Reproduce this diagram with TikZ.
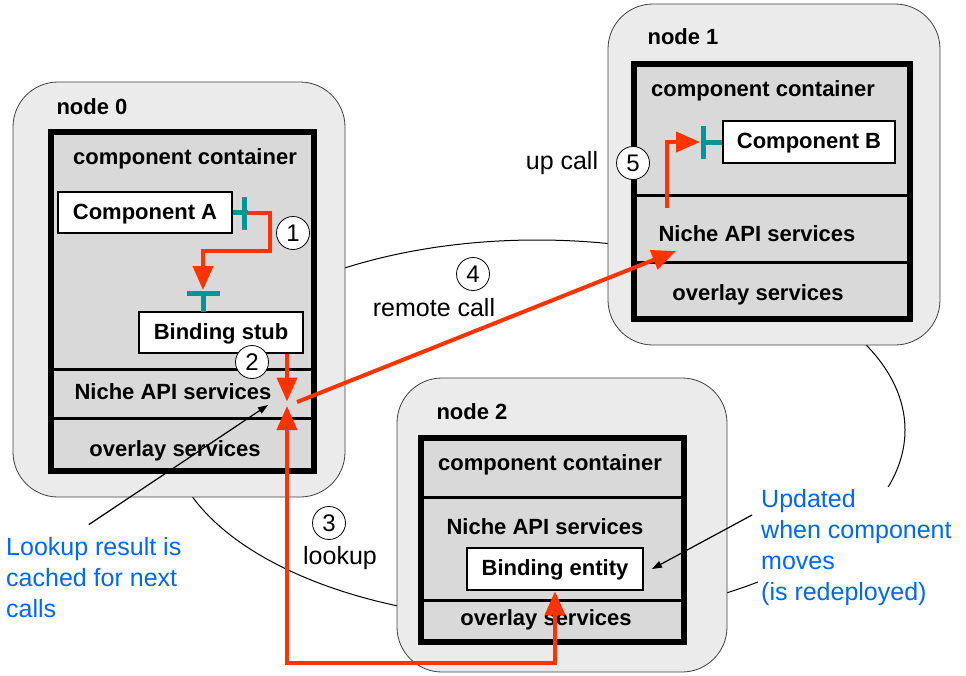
\documentclass[tikz,border=0pt]{standalone}
\usepackage{fontspec}
\setmainfont{Liberation Sans}
\usetikzlibrary{arrows.meta}
\definecolor{callred}{RGB}{255,51,0}
\definecolor{portteal}{RGB}{0,150,150}
\definecolor{noteblue}{RGB}{0,102,255}
\definecolor{hostgray}{RGB}{235,235,235}
\definecolor{layergray}{RGB}{217,217,217}
\tikzset{
  host/.style={draw=black!75,fill=hostgray,rounded corners=45pt,line width=0.8pt},
  layer/.style={draw=black,fill=layergray,line width=3pt},
  frame/.style={draw=black,line width=6pt},
  heavy/.style={font=\fontsize{22}{26}\selectfont\bfseries},
  lbl/.style={heavy,yshift=-2pt},
  box/.style={heavy,draw=black,fill=white,line width=2.5pt,inner sep=0pt,text height=16pt,text depth=3pt},
  txt/.style={font=\fontsize{25}{31}\selectfont},
  note/.style={txt,text=noteblue,align=left,inner sep=3pt},
  num/.style={draw,circle,fill=white,minimum size=33pt,inner sep=0pt,line width=0.8pt,font=\fontsize{24}{24}\selectfont},
  call/.style={draw=callred,line width=4pt,>={Triangle[length=24pt,width=20pt]}},
  port/.style={draw=portteal,line width=5pt},
  pointer/.style={draw=black,line width=1.2pt,>={Triangle[length=10pt,width=7pt]}}
}
\begin{document}
\begin{tikzpicture}[x=1pt,y=-1pt]
\useasboundingbox (0,0) rectangle (966,675);
% ring of hosts
\draw[line width=1pt] (537,430) ellipse (368 and 190);
\node[host,minimum width=332pt,minimum height=415pt] (host0) at (179,289.5) {};
\node[host,minimum width=332pt,minimum height=341pt] (host1) at (774,174.5) {};
\node[host,minimum width=330pt,minimum height=294pt] (host2) at (562,525) {};
% layer stacks
\foreach \lx/\rx/\ya/\yb/\yc/\yd in {51/314/132/369/418/471, 634/910/64/195/262/319, 421/684/438/497/600/642}{
  \draw[layer] (\lx,\ya) rectangle (\rx,\yb);
  \draw[layer] (\lx,\yb) rectangle (\rx,\yc);
  \draw[layer] (\lx,\yc) rectangle (\rx,\yd);
  \draw[frame] (\lx,\ya) rectangle (\rx,\yd);
}
% node 0
\node[lbl] (name0) at (92,105) {node 0};
\node[lbl] (cc0) at (185,157) {component container};
\node[lbl] (api0) at (173,390) {Niche API services};
\node[lbl] (ovl0) at (175,449) {overlay services};
\node[box,minimum width=174pt,minimum height=41pt] (compA) at (145,212.5) {Component A};
\node[box,minimum width=164pt,minimum height=41pt] (stub) at (221,332.5) {Binding stub};
% node 1
\node[lbl] (name1) at (683,35) {node 1};
\node[lbl] (cc1) at (763,89) {component container};
\node[lbl] (api1) at (757,232) {Niche API services};
\node[lbl] (ovl1) at (758,293) {overlay services};
\node[box,minimum width=172pt,minimum height=42pt] (compB) at (809,142) {Component B};
% node 2
\node[lbl] (name2) at (472,410) {node 2};
\node[lbl] (cc2) at (550,463) {component container};
\node[lbl] (api2) at (545,525) {Niche API services};
\node[lbl] (ovl2) at (546,618) {overlay services};
\node[box,minimum width=176pt,minimum height=42pt] (entity) at (555,569) {Binding entity};
% interfaces
\draw[port] (compA.east) -- (248,212.5);
\draw[port] (244,197) -- (244,230);
\draw[port] (187,293) -- (220,293);
\draw[port] (203,293) -- (203,312);
\draw[port] (compB.west) -- (703,142);
\draw[port] (703,126) -- (703,159);
\coordinate (outA) at (248,212.5);
\coordinate (inA) at (203,290);
\coordinate (hit0) at (287,403.5);
\coordinate (from4) at (297,402);
\coordinate (to4) at (676,251);
\coordinate (from5) at (667,208);
\coordinate (inB) at (700,142);
\coordinate (low3) at (555,663);
% notes
\node[txt] (upcall) at (562,163) {up call};
\node[txt] (remote) at (434,308) {remote call};
\node[txt] (lookup) at (340,558) {lookup};
\node[note,anchor=west] (cachenote) at (3,578) {Lookup result is\\cached for next\\calls};
\node[note,fill=white,anchor=west] (movenote) at (758,548) {Updated\\when component\\moves\\(is redeployed)};
\node[num] (n1) at (293,233) {1};
\node[num] (n2) at (252,362) {2};
\node[num] (n3) at (329,523) {3};
\node[num] (n4) at (473,274) {4};
\node[num] (n5) at (633,163) {5};
% calls
\draw[call,->] (outA) -| (270,251) -| (inA);
\draw[call,->] (stub.south -| hit0) -- ([yshift=2pt]hit0);
\draw[call,<->] ([yshift=-2.5pt]hit0) |- (low3) -- (entity.south);
\draw[call,->] (from4) -- (to4);
\draw[call,->] (from5) |- (inB);
\draw[pointer,->] ([xshift=-5pt,yshift=10pt]cachenote.north) -- (268,405);
\draw[pointer,->] ([xshift=-6pt,yshift=33pt]movenote.west) -- (entity.east -| 652,0);
\end{tikzpicture}
\end{document}
